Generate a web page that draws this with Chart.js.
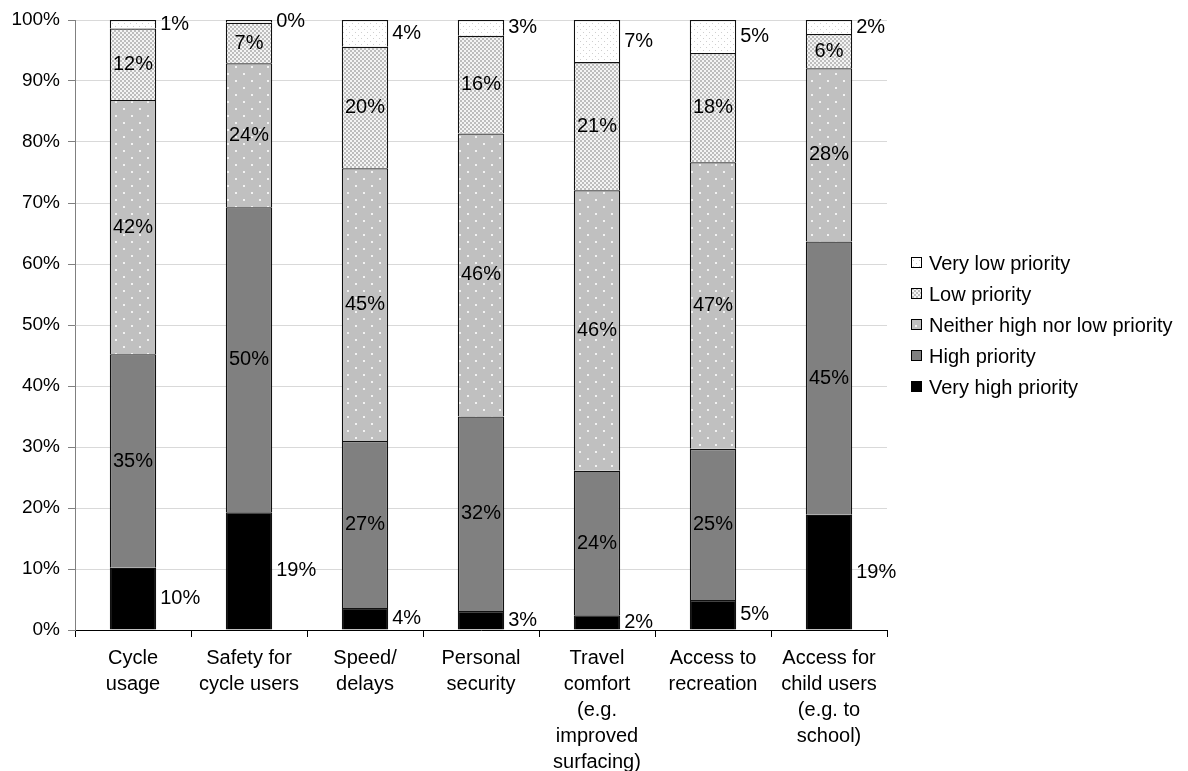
<!DOCTYPE html>
<html>
<head>
<meta charset="utf-8">
<script src="https://cdn.jsdelivr.net/npm/chart.js@4/dist/chart.umd.min.js"></script>
<style>
    body { margin: 0; background: #fff; }
    #chart { display: block; }
</style>
</head>
<body>
<canvas id="chart" width="1188" height="771"></canvas>
<script>
const categories = [
    ['Cycle', 'usage'],
    ['Safety for', 'cycle users'],
    ['Speed/', 'delays'],
    ['Personal', 'security'],
    ['Travel', 'comfort', '(e.g.', 'improved', 'surfacing)'],
    ['Access to', 'recreation'],
    ['Access for', 'child users', '(e.g. to', 'school)']
];

// shares in %, bottom of the stack first
const veryHigh = [10.2, 19.3, 3.6, 3.1, 2.4, 4.9, 18.9];
const high     = [35.0, 50.0, 27.4, 31.9, 23.7, 24.8, 44.8];
const neither  = [41.7, 23.6, 44.7, 46.4, 46.0, 47.0, 28.4];
const low      = [11.7, 6.65, 19.9, 16.0, 21.0, 17.9, 5.6];
const veryLow  = [1.4, 0.45, 4.4, 2.6, 6.9, 5.4, 2.3];

const seriesNames = ['Very high priority', 'High priority', 'Neither high nor low priority', 'Low priority', 'Very low priority'];
const yTicks = [0, 10, 20, 30, 40, 50, 60, 70, 80, 90, 100];

const FAMILY = 'Arial, "Liberation Sans", sans-serif';

function makePattern(kind) {
    const c = document.createElement('canvas');
    const g = c.getContext('2d');
    if (kind === 'veryLow') {
        c.width = 6; c.height = 6;
        g.fillStyle = '#ffffff'; g.fillRect(0, 0, 6, 6);
        g.fillStyle = '#cfcfcf';
        g.fillRect(1, 2, 1, 1);
        g.fillRect(4, 5, 1, 1);
    } else if (kind === 'low') {
        c.width = 4; c.height = 4;
        g.fillStyle = '#f4f4f4'; g.fillRect(0, 0, 4, 4);
        g.fillStyle = '#bdbdbd';
        g.fillRect(0, 0, 2, 2);
        g.fillRect(2, 2, 2, 2);
    } else {
        c.width = 16; c.height = 14;
        g.fillStyle = '#c0c0c0'; g.fillRect(0, 0, 16, 14);
        g.fillStyle = '#f2f2f2';
        g.fillRect(3, 3, 2, 2);
        g.fillRect(11, 10, 2, 2);
    }
    return g.createPattern(c, 'repeat');
}

const fills = ['#000000', '#808080', makePattern('neither'), makePattern('low'), makePattern('veryLow')];
const seriesData = [veryHigh, high, neither, low, veryLow];

// value labels: outer series sit to the right of the bar
const valueLabels = {
    id: 'valueLabels',
    afterDatasetsDraw(chart) {
        const ctx = chart.ctx;
        ctx.save();
        ctx.font = `20px ${FAMILY}`;
        ctx.fillStyle = '#000';
        ctx.textBaseline = 'middle';
        chart.data.datasets.forEach((ds, i) => {
            const meta = chart.getDatasetMeta(i);
            meta.data.forEach((bar, j) => {
                const text = Math.round(ds.data[j]) + '%';
                const midY = (bar.y + bar.base) / 2;
                if (i === 0 || i === 4) {
                    ctx.textAlign = 'left';
                    ctx.fillText(text, bar.x + bar.width / 2 + 4, midY);
                } else {
                    ctx.textAlign = 'center';
                    ctx.fillText(text, bar.x, midY);
                }
            });
        });
        ctx.restore();
    }
};

// legend drawn beside the plot, centred on the plot area
const sideLegend = {
    id: 'sideLegend',
    afterDraw(chart) {
        const ctx = chart.ctx;
        const area = chart.chartArea;
        const midY = (area.top + area.bottom) / 2;
        const step = 31;
        const n = chart.data.datasets.length;
        ctx.save();
        ctx.font = `20px ${FAMILY}`;
        ctx.textBaseline = 'middle';
        ctx.textAlign = 'left';
        for (let k = 0; k < n; k++) {
            const ds = chart.data.datasets[n - 1 - k];
            const y = Math.round(midY + (k - (n - 1) / 2) * step);
            ctx.fillStyle = ds.backgroundColor;
            ctx.fillRect(911.5, y - 5.5, 10, 10);
            ctx.strokeStyle = '#000';
            ctx.lineWidth = 1;
            ctx.strokeRect(911.5, y - 5.5, 10, 10);
            ctx.fillStyle = '#000';
            ctx.fillText(ds.label, 929, y + 1);
        }
        ctx.restore();
    }
};

new Chart(document.getElementById('chart'), {
    type: 'bar',
    data: {
        labels: categories,
        datasets: seriesNames.map((name, i) => ({
            label: name,
            data: seriesData[i],
            backgroundColor: fills[i],
            borderColor: '#111',
            borderWidth: 1.3,
            barPercentage: 0.4,
            categoryPercentage: 1
        }))
    },
    options: {
        responsive: false,
        animation: false,
        devicePixelRatio: 1,
        layout: { padding: { top: 20, right: 301, left: 0, bottom: 0 } },
        plugins: {
            legend: { display: false },
            tooltip: { enabled: false }
        },
        scales: {
            x: {
                stacked: true,
                afterFit: s => { s.height = 141; },
                border: { color: '#000', width: 1 },
                grid: { drawOnChartArea: false, tickColor: '#000', tickLength: 7, offset: true },
                ticks: {
                    color: '#000',
                    font: { family: FAMILY, size: 20, lineHeight: '26px' },
                    maxRotation: 0,
                    autoSkip: false,
                    padding: 8
                }
            },
            y: {
                stacked: true,
                min: 0,
                max: 100,
                afterFit: s => { s.width = 75; },
                afterBuildTicks: s => { s.ticks = yTicks.map(v => ({ value: v })); },
                border: { color: '#808080', width: 1 },
                grid: { color: '#d9d9d9', tickColor: '#808080', tickLength: 7 },
                ticks: {
                    color: '#000',
                    font: { family: FAMILY, size: 19 },
                    padding: 8,
                    callback: v => v + '%'
                }
            }
        }
    },
    plugins: [valueLabels, sideLegend]
});
</script>
</body>
</html>
